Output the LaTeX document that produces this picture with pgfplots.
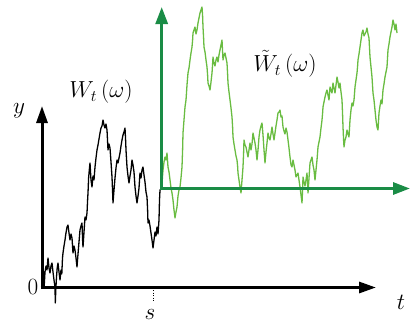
\documentclass[border=0pt]{standalone}
\usepackage{pgfplots}
\pgfplotsset{compat=1.18}
\usetikzlibrary{arrows.meta}
\definecolor{axgreen}{RGB}{26,140,70}
\definecolor{pathgreen}{RGB}{105,188,65}
\begin{document}
\begin{tikzpicture}
\begin{axis}[width=410pt,height=324pt,scale only axis,
  xmin=0,xmax=410,ymin=0,ymax=324,y dir=reverse,
  hide axis,clip=false]
% black path W_t up to s
\addplot[black,line width=1.3pt,line join=round] coordinates {
(41.7,287) (42.3,272) (43,262) (43.6,278) (44.2,286) (45,272) (46,266) (47,270) (48,258) (49,268)
(50,273) (51,266) (52,263) (53,272) (54,280) (55,287) (55.3,303) (55.8,290) (56.5,277) (57.2,268)
(58,263) (59,272) (60,280) (61,270) (61.8,274) (62.5,258) (63,253) (64,246) (65,240) (65.8,234)
(66.5,230) (67,227) (68,225) (69,233) (70,240) (71,234) (72,238) (73,253) (74,246) (75,250)
(76,258) (77,267) (78,254) (79,242) (80,230) (81,226) (82,223) (82.6,240) (83,247) (84,232)
(85,217) (86,220) (87,213) (87.6,200) (88,193) (88.6,178) (89.3,170) (90,163) (91,180) (92,187)
(93,176) (94,180) (95,167) (96,158) (97,150) (98,145) (99,139) (100,133) (101,128) (102,126)
(103,120) (104,125) (105,128) (106,124) (107,130) (107.6,142) (108,150) (109,144) (110,148) (111,162)
(112,177) (112.6,192) (113,203) (114,190) (115,178) (116,168) (117,160) (118,163) (119,158) (120,153)
(121,146) (122,140) (123,135) (124,132) (125,128) (125.6,140) (126,150) (127,167) (128,176) (129,183)
(130,176) (131,170) (132,160) (133,165) (134,172) (135,187) (136,196) (137,203) (138,196) (139,188)
(140,173) (141,178) (142,170) (143,167) (144,175) (145,182) (146,192) (147,197) (147.6,210) (148,223)
(149,220) (150,226) (151,233) (152,240) (153,248) (154,240) (155,232) (156,236) (157,227) (158,234)
(159,220) (159.5,200) (160,190) (161.7,188.3)
};
% green path after s
\addplot[pathgreen,line width=1.3pt,line join=round] coordinates {
(161.7,188.3) (162.4,178) (163,170) (164,162) (165,157) (166,160) (167,153) (168,167) (169,172) (170,180)
(171,188) (172,193) (173,200) (174,210) (175,218) (176,212) (177,207) (178,196) (179,190) (180,187)
(181,178) (182,167) (182.6,150) (183,133) (184,120) (185,107) (186,100) (187,85) (188,73) (189,68)
(190,60) (191,53) (192,47) (192.6,40) (193,33) (194,30) (195,27) (196,34) (197,30) (198,23)
(199,18) (200,13) (201,10) (202,7) (202.6,16) (203,27) (203.6,38) (204,47) (205,52) (206,60)
(207,67) (207.6,75) (208,83) (209,86) (210,90) (211,82) (212,73) (212.6,64) (213,57) (214,63)
(215,66) (216,60) (217,57) (218,62) (219,55) (220,50) (221,45) (222,40) (222.6,52) (223,60)
(224,55) (225,53) (226,58) (227,63) (227.6,74) (228,83) (229,92) (230,100) (231,108) (232,117)
(232.6,127) (233,137) (234,144) (235,150) (236,156) (237,160) (237.6,166) (238,173) (239,180) (240,187)
(241,193) (242,180) (243,167) (243.6,153) (244,140) (245,145) (246,147) (247,152) (248,157) (249,150)
(250,143) (251,150) (252,144) (253,133) (254,138) (255,143) (256,150) (257,160) (258,150) (259,137)
(260,130) (261,126) (262,123) (263,135) (264,150) (265,163) (266,152) (267,143) (268,133) (269,138)
(270,140) (271,134) (272,127) (273,134) (274,140) (275,133) (276,126) (277,120) (278,113) (279,112)
(280,110) (281,117) (282,116) (283,127) (284,131) (285,134) (286,128) (287,132) (288,140) (289,148)
(290,157) (291,165) (292,167) (293,160) (294,165) (295,170) (296,177) (297,175) (298,173) (299,180)
(300,187) (301,195) (302,203) (302.6,190) (303,177) (304,182) (305,186) (306,180) (307,173) (307.6,185)
(308,193) (309,178) (310,163) (311,160) (312,157) (313,165) (314,170) (315,180) (316,170) (317,160)
(318,147) (319,142) (320,137) (321,128) (322,120) (322.6,113) (323,107) (324,102) (325,97) (326,93)
(327,90) (328,95) (329,100) (330,87) (331,90) (332,93) (333,83) (334,88) (335,93) (336,85)
(337,77) (338,82) (339,88) (340,83) (341,92) (342,100) (342.6,115) (343,127) (343.6,140) (344,147)
(345,140) (346,137) (347,130) (348,134) (349,137) (350,120) (351,110) (352,103) (353,106) (354,100)
(355,87) (356,80) (357,73) (357.6,66) (358,60) (359,54) (360,47) (361,40) (362,33) (363,30)
(364,36) (365,34) (366,32) (367,28) (368,34) (369,38) (370,57) (371,67) (372,77) (373,93)
(374,100) (375,110) (376,120) (377,127) (378,130) (379,113) (380,106) (381,100) (382,104) (383,90)
(384,84) (385,77) (386,72) (387,67) (388,50) (389,44) (390,37) (391,32) (392,27) (393,20)
(394,24) (395,30) (396,24) (397,33)
};
% main axes
\draw[black,line width=3pt,-{Triangle[width=11pt,length=17pt]}] (axis cs:42,289) -- (axis cs:42,106);
\draw[black,line width=3pt,-{Triangle[width=11pt,length=17pt]}] (axis cs:40.5,287.5) -- (axis cs:376,287.5);
% shifted axes
\draw[axgreen,line width=3pt,-{Triangle[width=12pt,length=17pt]}] (axis cs:161.7,190) -- (axis cs:161.7,7);
\draw[axgreen,line width=3pt,-{Triangle[width=12pt,length=17pt]}] (axis cs:160.2,188.5) -- (axis cs:410,188.5);
% tick at s
\draw[black,line width=0.6pt,dotted] (axis cs:153,290) -- (axis cs:153,302);
% labels
\node[font=\huge,scale=1.12] at (axis cs:19,111) {$y$};
\node[font=\huge,scale=1.12] at (axis cs:33,287) {$0$};
\node[font=\huge,scale=1.12] at (axis cs:150,314) {$s$};
\node[font=\huge,scale=1.12] at (axis cs:401,302) {$t$};
\node[font=\huge,scale=1.12] at (axis cs:101,92) {$W_{t}\,(\omega)$};
\node[font=\huge,scale=1.12] at (axis cs:285,64) {$\tilde{W}_{t}\,(\omega)$};
\end{axis}
\pgfresetboundingbox
\path (current axis.south west) rectangle (current axis.north east);
\end{tikzpicture}
\end{document}
